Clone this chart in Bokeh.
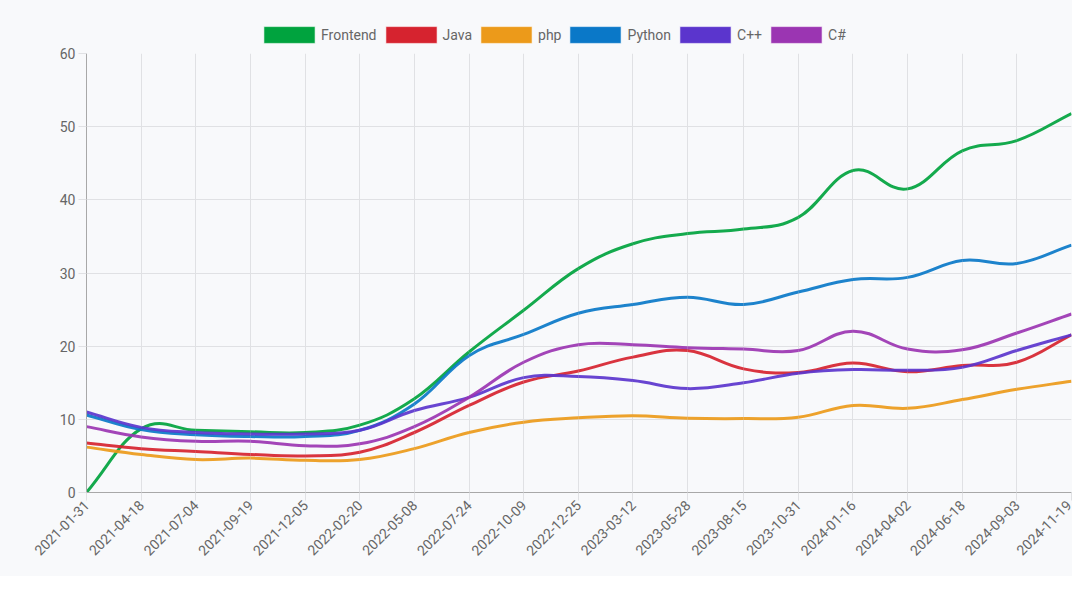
import numpy as np
import pandas as pd
from bokeh.plotting import figure
from bokeh.layouts import column
from bokeh.models import (FixedTicker, DatetimeTickFormatter, Legend, LegendItem,
                          ColumnDataSource, Range1d)
from bokeh.embed import file_html
from bokeh.resources import INLINE

# ---------------- data ----------------
dates = ["2021-01-31", "2021-04-18", "2021-07-04", "2021-09-19", "2021-12-05",
         "2022-02-20", "2022-05-08", "2022-07-24", "2022-10-09", "2022-12-25",
         "2023-03-12", "2023-05-28", "2023-08-15", "2023-10-31", "2024-01-16",
         "2024-04-02", "2024-06-18", "2024-09-03", "2024-11-19"]

frontend = [0.0, 8.7, 8.5, 8.3, 8.2, 9.2, 12.8, 19.2, 24.9, 30.6, 34.0, 35.4, 36.0,
            37.6, 44.0, 41.5, 46.7, 48.1, 51.8]
java = [6.75, 5.97, 5.6, 5.2, 5.0, 5.5, 8.2, 11.9, 15.1, 16.6, 18.5, 19.4, 16.9,
        16.4, 17.7, 16.5, 17.35, 17.8, 21.55]
php = [6.2, 5.2, 4.5, 4.7, 4.4, 4.5, 6.0, 8.2, 9.6, 10.2, 10.5, 10.15, 10.1,
       10.3, 11.9, 11.5, 12.7, 14.1, 15.2]
python = [10.6, 8.6, 7.9, 7.65, 7.65, 8.5, 12.1, 18.7, 21.6, 24.5, 25.7, 26.7, 25.7,
          27.4, 29.1, 29.4, 31.7, 31.3, 33.8]
cpp = [11.0, 8.9, 8.2, 8.0, 8.0, 8.5, 11.2, 13.0, 15.7, 15.85, 15.3, 14.2, 15.0,
       16.3, 16.8, 16.7, 17.1, 19.4, 21.55]
csharp = [9.0, 7.6, 7.0, 7.0, 6.4, 6.65, 9.0, 13.0, 17.8, 20.2, 20.2, 19.8, 19.6,
          19.4, 22.05, 19.6, 19.5, 21.8, 24.4]

series_names = ["Frontend", "Java", "php", "Python", "C++", "C#"]
series_values = [frontend, java, php, python, cpp, csharp]
colors = ["#00a33e", "#d6232f", "#ec9a1a", "#0a78c8", "#5b35cd", "#9b35b2"]

y_ticks = [0, 10, 20, 30, 40, 50, 60]

# ---------------- helpers ----------------
xs_ms = (pd.to_datetime(dates).astype("int64") // 10**6).astype(float).to_numpy()


def bezier_source(xs, ys, t=0.4):
    """Control points for a tension spline through the data (drawn with Bezier glyph)."""
    xs = np.asarray(xs, float)
    ys = np.asarray(ys, float)
    n = len(xs)
    cpx_prev = np.zeros(n); cpy_prev = np.zeros(n)
    cpx_next = np.zeros(n); cpy_next = np.zeros(n)
    for i in range(n):
        px, py = (xs[i - 1], ys[i - 1]) if i > 0 else (xs[i], ys[i])
        nx, ny = (xs[i + 1], ys[i + 1]) if i < n - 1 else (xs[i], ys[i])
        dp = 1.0 if i > 0 else 0.0
        dn = 1.0 if i < n - 1 else 0.0
        fa = t * dp / (dp + dn)
        fb = t * dn / (dp + dn)
        cpx_prev[i] = xs[i] - fa * (nx - px)
        cpy_prev[i] = ys[i] - fa * (ny - py)
        cpx_next[i] = xs[i] + fb * (nx - px)
        cpy_next[i] = ys[i] + fb * (ny - py)
    return ColumnDataSource(dict(
        x0=xs[:-1], y0=ys[:-1], x1=xs[1:], y1=ys[1:],
        cx0=cpx_next[:-1], cy0=cpy_next[:-1], cx1=cpx_prev[1:], cy1=cpy_prev[1:]))


BG = "#f8f9fb"
W = 1072
FONT = "Roboto"
FSIZE = "14px"
TXT = "#666666"

# ---------------- legend strip ----------------
lg = figure(width=W, height=45, x_range=Range1d(0, 1), y_range=Range1d(0, 1),
            output_backend="svg", toolbar_location=None,
            x_axis_location=None, y_axis_location=None,
            min_border_left=86, min_border_right=1,
            min_border_top=0, min_border_bottom=0)
lg.background_fill_color = BG
lg.border_fill_color = BG
lg.outline_line_color = None
lg.xgrid.visible = False
lg.ygrid.visible = False

items = []
for name, col in zip(series_names, colors):
    # legend swatch only: NaN geometry, nothing is drawn in the plot area
    box = lg.quad(left=[np.nan], right=[np.nan], top=[np.nan], bottom=[np.nan],
                  fill_color=col, line_color="white", line_alpha=0.6, line_width=1)
    items.append(LegendItem(label=name, renderers=[box]))

legend = Legend(items=items, orientation="horizontal", location=(171, 0),
                glyph_width=64, glyph_height=21, label_standoff=0, spacing=2,
                label_text_font=FONT, label_text_font_size=FSIZE,
                label_text_color=TXT, padding=0, margin=0,
                border_line_alpha=0, background_fill_alpha=0)
lg.add_layout(legend, "center")

# ---------------- main chart ----------------
p = figure(width=W, height=531, x_axis_type="datetime",
           x_range=Range1d(xs_ms[0], xs_ms[-1]), y_range=Range1d(0, 60),
           output_backend="svg", toolbar_location=None,
           min_border_left=86, min_border_right=1, min_border_top=8,
           min_border_bottom=84)
p.background_fill_color = BG
p.border_fill_color = BG
p.outline_line_color = None

grid_col = "#e0e1e4"
p.xgrid.grid_line_color = grid_col
p.ygrid.grid_line_color = grid_col
p.xgrid.ticker = FixedTicker(ticks=list(xs_ms))
p.ygrid.ticker = FixedTicker(ticks=y_ticks)

for ax in (p.xaxis[0], p.yaxis[0]):
    ax.axis_line_color = "#a8a8a8"
    ax.major_tick_line_color = grid_col
    ax.major_tick_in = 0
    ax.major_tick_out = 8
    ax.minor_tick_line_color = None
    ax.major_label_text_font = FONT
    ax.major_label_text_font_size = FSIZE
    ax.major_label_text_color = TXT

p.yaxis.ticker = FixedTicker(ticks=y_ticks)
p.yaxis.major_label_standoff = 3
p.xaxis.ticker = FixedTicker(ticks=list(xs_ms))
fmt = "%Y-%m-%d"
p.xaxis.formatter = DatetimeTickFormatter(
    microseconds=fmt, milliseconds=fmt, seconds=fmt, minsec=fmt, minutes=fmt,
    hourmin=fmt, hours=fmt, days=fmt, months=fmt, years=fmt,
    context=None)
p.xaxis.major_label_orientation = np.pi / 4
p.xaxis.major_label_standoff = 2

for name, vals, col in zip(series_names, series_values, colors):
    src = bezier_source(xs_ms, vals)
    p.bezier(x0="x0", y0="y0", x1="x1", y1="y1", cx0="cx0", cy0="cy0",
             cx1="cx1", cy1="cy1", source=src, line_color=col, line_width=3,
             line_alpha=0.92)

layout = column(lg, p, spacing=0)
layout.styles = {"background-color": BG}

open("out.html", "w").write(file_html(layout, INLINE))
